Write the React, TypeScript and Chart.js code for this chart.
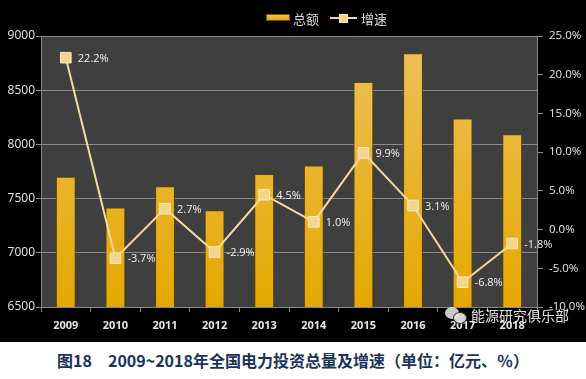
import React, { useEffect, useRef } from "react";
import { Chart, registerables } from "chart.js";

Chart.register(...registerables);

const categories = ["2009", "2010", "2011", "2012", "2013", "2014", "2015", "2016", "2017", "2018"];
const totalValues = [7702, 7417, 7614, 7393, 7728, 7805, 8576, 8840, 8239, 8094];
const growthValues = [22.2, -3.7, 2.7, -2.9, 4.5, 1.0, 9.9, 3.1, -6.8, -1.8];
const legendLabels = ["总额", "增速"];
const caption = "图18　2009~2018年全国电力投资总量及增速（单位：亿元、％）";
const watermark = "能源研究俱乐部";

const NUM_FONT = '"Open Sans", "Noto Sans CJK SC", sans-serif';
const CJK_FONT = '"Noto Sans CJK SC", "Noto Sans", sans-serif';

const bgPlugin = {
  id: "bgPlugin",
  beforeDraw(chart: any) {
    const { ctx, chartArea } = chart;
    ctx.save();
    ctx.fillStyle = "#000000";
    ctx.fillRect(0, 0, chart.width, chart.height);
    ctx.fillStyle = "#3f3f3f";
    ctx.fillRect(chartArea.left, chartArea.top, chartArea.right - chartArea.left, chartArea.bottom - chartArea.top);
    ctx.restore();
  },
};

const labelPlugin = {
  id: "labelPlugin",
  afterDatasetsDraw(chart: any) {
    const { ctx } = chart;
    const meta = chart.getDatasetMeta(1);
    ctx.save();
    ctx.fillStyle = "#f0f0f0";
    ctx.font = `11px ${NUM_FONT}`;
    ctx.textAlign = "left";
    ctx.textBaseline = "middle";
    meta.data.forEach((pt: any, i: number) => {
      ctx.fillText(`${growthValues[i].toFixed(1)}%`, pt.x + 12, pt.y + 1);
    });
    ctx.restore();
  },
};

export default function App() {
  const ref = useRef<HTMLCanvasElement | null>(null);

  useEffect(() => {
    document.body.style.margin = "0";
    const canvas = ref.current;
    if (!canvas) return;
    const chart = new Chart(canvas, {
      type: "bar",
      data: {
        labels: categories,
        datasets: [
          {
            type: "bar",
            label: legendLabels[0],
            data: totalValues,
            yAxisID: "y",
            order: 1,
            barPercentage: 0.4,
            categoryPercentage: 1,
            borderColor: "#5e4300",
            borderWidth: 1,
            backgroundColor: (c: any) => {
              const area = c.chart.chartArea;
              if (!area) return "#e8b020";
              const g = c.chart.ctx.createLinearGradient(0, area.top, 0, area.bottom);
              g.addColorStop(0, "#eec15c");
              g.addColorStop(1, "#e4a800");
              return g;
            },
          } as any,
          {
            type: "line",
            label: legendLabels[1],
            data: growthValues,
            yAxisID: "y1",
            order: 0,
            borderColor: "#f6d89e",
            borderWidth: 2,
            pointStyle: "rect",
            pointRadius: 7.5,
            pointBackgroundColor: "#f7d48c",
            pointBorderColor: "#fde9c0",
            pointBorderWidth: 1,
            tension: 0,
          } as any,
        ],
      },
      options: {
        animation: false,
        responsive: false,
        layout: { padding: { top: 36, left: 0, right: 0, bottom: 0 } },
        plugins: {
          legend: { display: false },
          tooltip: { enabled: false },
        },
        scales: {
          x: {
            offset: true,
            grid: {
              display: true,
              drawOnChartArea: false,
              drawTicks: true,
              tickLength: 5,
              color: "#8a8a8a",
              offset: true,
            },
            border: { display: true, color: "#8a8a8a" },
            ticks: {
              color: "#e8e8e8",
              font: { size: 11, weight: "bold", family: NUM_FONT },
              padding: 7,
            },
            afterFit: (s: any) => {
              s.height = 35;
            },
          },
          y: {
            position: "left",
            min: 6500,
            max: 9000,
            ticks: {
              stepSize: 500,
              color: "#e8e8e8",
              font: { size: 12, family: NUM_FONT },
              padding: 1,
              callback: (v: any) => String(v),
            },
            grid: { color: "#8a8a8a", tickLength: 5, lineWidth: 1 },
            border: { display: true, color: "#8a8a8a" },
            afterFit: (s: any) => {
              s.width = 41;
            },
          },
          y1: {
            position: "right",
            min: -10,
            max: 25,
            ticks: {
              stepSize: 5,
              color: "#e8e8e8",
              font: { size: 11.5, family: NUM_FONT },
              padding: 6,
              callback: (v: any) => `${Number(v).toFixed(1)}%`,
            },
            grid: { drawOnChartArea: false, color: "#8a8a8a", tickLength: 6 },
            border: { display: true, color: "#8a8a8a" },
            afterFit: (s: any) => {
              s.width = 49;
            },
          },
        },
      } as any,
      plugins: [bgPlugin, labelPlugin],
    });
    return () => chart.destroy();
  }, []);

  return (
    <div style={{ position: "relative", width: 586, height: 379, background: "#ffffff", overflow: "hidden" }}>
      <div style={{ position: "absolute", left: 0, top: 0, width: 586, height: 342, background: "#000" }}>
        <canvas ref={ref} width={586} height={342} style={{ display: "block" }} />
      </div>
      {/* legend */}
      <div style={{ position: "absolute", left: 266, top: 14, width: 24, height: 7, background: "linear-gradient(#f0c45e, #e3a700)", border: "1px solid #7a5800", boxSizing: "border-box" }} />
      <div style={{ position: "absolute", left: 293, top: 9, height: 18, lineHeight: "18px", font: `13px ${CJK_FONT}`, color: "#dcdcdc" }}>{legendLabels[0]}</div>
      <div style={{ position: "absolute", left: 330, top: 17, width: 27, height: 2, background: "#f6d89e" }} />
      <div style={{ position: "absolute", left: 339, top: 13.5, width: 9, height: 9, background: "#f7d48c", border: "1px solid #fde9c0", boxSizing: "border-box" }} />
      <div style={{ position: "absolute", left: 361, top: 9, height: 18, lineHeight: "18px", font: `13px ${CJK_FONT}`, color: "#dcdcdc" }}>{legendLabels[1]}</div>
      {/* watermark */}
      <div style={{ position: "absolute", left: 445, top: 307, width: 14, height: 12, borderRadius: "50%", background: "rgba(235,235,235,0.85)" }} />
      <div style={{ position: "absolute", left: 453, top: 312, width: 14, height: 12, borderRadius: "50%", background: "rgba(235,235,235,0.9)", border: "1px solid #333", boxSizing: "border-box" }} />
      <div style={{ position: "absolute", left: 471, top: 305, height: 22, lineHeight: "22px", font: `14px ${CJK_FONT}`, color: "rgba(245,245,245,0.92)", whiteSpace: "nowrap" }}>{watermark}</div>
      {/* caption */}
      <div style={{ position: "absolute", left: 0, top: 348, width: 586, textAlign: "center", lineHeight: "24px", font: `bold 16px ${CJK_FONT}`, color: "#1b3358", whiteSpace: "nowrap" }}>{caption}</div>
    </div>
  );
}
